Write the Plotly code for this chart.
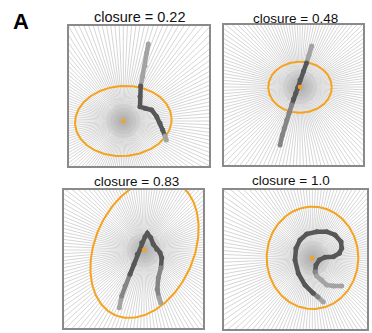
import numpy as np
import plotly.graph_objects as go

FIG_W, FIG_H = 372, 333

# ---- data -------------------------------------------------------------
titles = ["closure = 0.22", "closure = 0.48", "closure = 0.83", "closure = 1.0"]

# animal tracks in arena units (x to the right, y downward), with a shade code per point
track1_x = [79.3, 77.7, 76.0, 73.7, 71.7, 71.0, 71.0, 76.0, 82.7, 87.7, 91.0, 93.7, 96.0, 97.3]
track1_y = [18.0, 27.0, 40.0, 50.5, 60.0, 70.5, 80.7, 82.3, 84.0, 90.7, 97.3, 104.0, 110.0, 114.0]
track1_s = ["L", "L", "L", "L", "D", "D", "D", "D", "D", "D", "D", "D", "L", "L"]

track2_x = [87.7, 85.0, 82.5, 79.5, 76.0, 73.5, 71.7, 69.5, 67.7, 65.0, 62.7, 60.3, 58.3, 56.0]
track2_y = [21.0, 30.0, 38.0, 46.0, 55.0, 63.0, 68.3, 74.0, 80.0, 88.0, 95.0, 103.3, 110.0, 120.0]
track2_s = ["L", "L", "D", "D", "D", "D", "D", "D", "M", "M", "M", "M", "M", "M"]

track3_x = [55.3, 57.7, 61.0, 66.0, 70.0, 73.3, 77.7, 81.0, 83.3, 86.7, 89.3, 92.7, 96.0,
            97.7, 97.0, 94.3, 93.3, 95.0, 96.7]
track3_y = [117.7, 106.0, 96.0, 84.3, 74.3, 64.3, 52.7, 46.7, 43.3, 47.7, 54.3, 59.3, 62.7,
            67.7, 77.7, 87.7, 99.3, 107.7, 112.7]
track3_s = ["L", "M", "M", "D", "D", "D", "D", "D", "D", "D", "D", "D", "D",
            "D", "M", "M", "M", "L", "L"]

track4_x = [99.3, 94.0, 89.3, 81.0, 74.3, 71.0, 72.0, 76.0, 82.7, 92.7, 102.7, 111.0, 117.0,
            117.7, 115.3, 109.3, 101.0, 95.3, 92.0, 91.0, 92.7, 97.7, 102.7, 109.3, 117.7]
track4_y = [112.0, 107.0, 103.3, 95.0, 83.3, 70.0, 58.3, 50.0, 44.0, 41.7, 41.7, 45.0, 51.7,
            58.3, 63.3, 66.7, 67.3, 70.0, 75.0, 81.7, 86.0, 90.0, 95.0, 96.0, 96.0]
track4_s = ["L", "M", "D", "D", "D", "D", "D", "D", "D", "D", "D", "D", "D",
            "D", "D", "D", "D", "D", "D", "M", "L", "L", "L", "L", "L"]

# fitted ellipse per arena: centre, semi-axes, tilt (degrees, counter-clockwise)
ell_cx = [54.3, 76.0, 80.5, 88.5]
ell_cy = [95.0, 62.2, 58.3, 67.8]
ell_a = [48.3, 31.7, 73.0, 45.8]
ell_b = [35.0, 25.5, 49.5, 51.2]
ell_tilt = [4.0, 0.0, 66.0, 0.0]

# centre of mass of each track (orange dot)
com_x = [54.3, 76.0, 80.0, 88.3]
com_y = [95.0, 62.0, 60.0, 68.3]

# ---- layout (pixel boxes of the four arenas) ---------------------------
boxes = [(69, 26, 209, 166), (224, 25, 363, 165), (64, 190, 203, 328), (224, 190, 367, 329)]
title_pos = [(139.5, 17.5, 14.5), (295, 18, 13.5), (136.7, 181.5, 13.5), (290.5, 180, 13.5)]

ORANGE = "#f5a31f"
GRAYS = {"L": "#a3a3a3", "M": "#858585", "D": "#575757"}
N_RAYS = 144

tracks = [(track1_x, track1_y, track1_s), (track2_x, track2_y, track2_s),
          (track3_x, track3_y, track3_s), (track4_x, track4_y, track4_s)]

fig = go.Figure()
layout_axes = {}

for k in range(4):
    x0, y0, x1, y1 = boxes[k]
    w, h = x1 - x0, y1 - y0
    sfx = "" if k == 0 else str(k + 1)
    xa, ya = "x" + sfx, "y" + sfx
    common = dict(showgrid=False, zeroline=False, showticklabels=False, ticks="",
                  showline=True, mirror=True, linecolor="#8a8a8a", linewidth=2,
                  fixedrange=True)
    layout_axes["xaxis" + sfx] = dict(domain=[x0 / FIG_W, x1 / FIG_W], range=[0, w],
                                      anchor=ya, **common)
    layout_axes["yaxis" + sfx] = dict(domain=[1 - y1 / FIG_H, 1 - y0 / FIG_H], range=[h, 0],
                                      anchor=xa, **common)

    # radial grid from the track centre
    cx, cy = com_x[k], com_y[k]
    ang = np.linspace(0, 2 * np.pi, N_RAYS, endpoint=False)
    rx, ry = [], []
    for t in ang:
        rx += [cx, cx + 300 * np.cos(t), None]
        ry += [cy, cy + 300 * np.sin(t), None]
    fig.add_trace(go.Scatter(x=rx, y=ry, mode="lines", xaxis=xa, yaxis=ya,
                             line=dict(color="#d6d6d6", width=1),
                             hoverinfo="skip", showlegend=False))
    # soft shading where the rays converge
    for sz in [34, 26, 19, 13, 8]:
        fig.add_trace(go.Scatter(x=[cx], y=[cy], mode="markers", xaxis=xa, yaxis=ya,
                                 marker=dict(color="rgba(150,150,150,0.13)", size=sz,
                                             line=dict(width=0)),
                                 hoverinfo="skip", showlegend=False))

    # ellipse
    t = np.linspace(0, 2 * np.pi, 200)
    phi = np.radians(ell_tilt[k])
    ex = ell_cx[k] + ell_a[k] * np.cos(t) * np.cos(phi) - ell_b[k] * np.sin(t) * np.sin(phi)
    ey = ell_cy[k] - (ell_a[k] * np.cos(t) * np.sin(phi) + ell_b[k] * np.sin(t) * np.cos(phi))
    fig.add_trace(go.Scatter(x=ex, y=ey, mode="lines", xaxis=xa, yaxis=ya,
                             line=dict(color=ORANGE, width=2),
                             hoverinfo="skip", showlegend=False))

    # track, split into runs of equal shade
    xs, ys, ss = tracks[k]
    i, n = 0, len(xs)
    while i < n - 1:
        s = ss[i]
        j = i
        while j < n - 1 and ss[j] == s:
            j += 1
        fig.add_trace(go.Scatter(x=xs[i:j + 1], y=ys[i:j + 1], mode="lines", xaxis=xa, yaxis=ya,
                                 line=dict(color=GRAYS[s], width=4.5),
                                 hoverinfo="skip", showlegend=False))
        i = j
    fig.add_trace(go.Scatter(x=xs, y=ys, mode="markers", xaxis=xa, yaxis=ya,
                             marker=dict(color=[GRAYS[s] for s in ss], size=5, line=dict(width=0)),
                             hoverinfo="skip", showlegend=False))

    # centre dot
    fig.add_trace(go.Scatter(x=[cx], y=[cy], mode="markers", xaxis=xa, yaxis=ya,
                             marker=dict(color=ORANGE, size=4.5, line=dict(width=0)),
                             hoverinfo="skip", showlegend=False))

annotations = []
for k in range(4):
    tx, ty, fs = title_pos[k]
    annotations.append(dict(text=titles[k], x=tx / FIG_W, y=1 - ty / FIG_H, xref="paper",
                            yref="paper", xanchor="center", yanchor="middle", showarrow=False,
                            font=dict(family="Liberation Sans, Arial, sans-serif", size=fs,
                                      color="#111111")))
annotations.append(dict(text="<b>A</b>", x=21 / FIG_W, y=1 - 22 / FIG_H, xref="paper",
                        yref="paper", xanchor="center", yanchor="middle", showarrow=False,
                        font=dict(family="Liberation Sans, Arial, sans-serif", size=22,
                                  color="#000000")))

fig.update_layout(width=FIG_W, height=FIG_H, margin=dict(l=0, r=0, t=0, b=0),
                  paper_bgcolor="white", plot_bgcolor="white", showlegend=False,
                  annotations=annotations, **layout_axes)

fig.write_html("out.html", config={"displayModeBar": False})
